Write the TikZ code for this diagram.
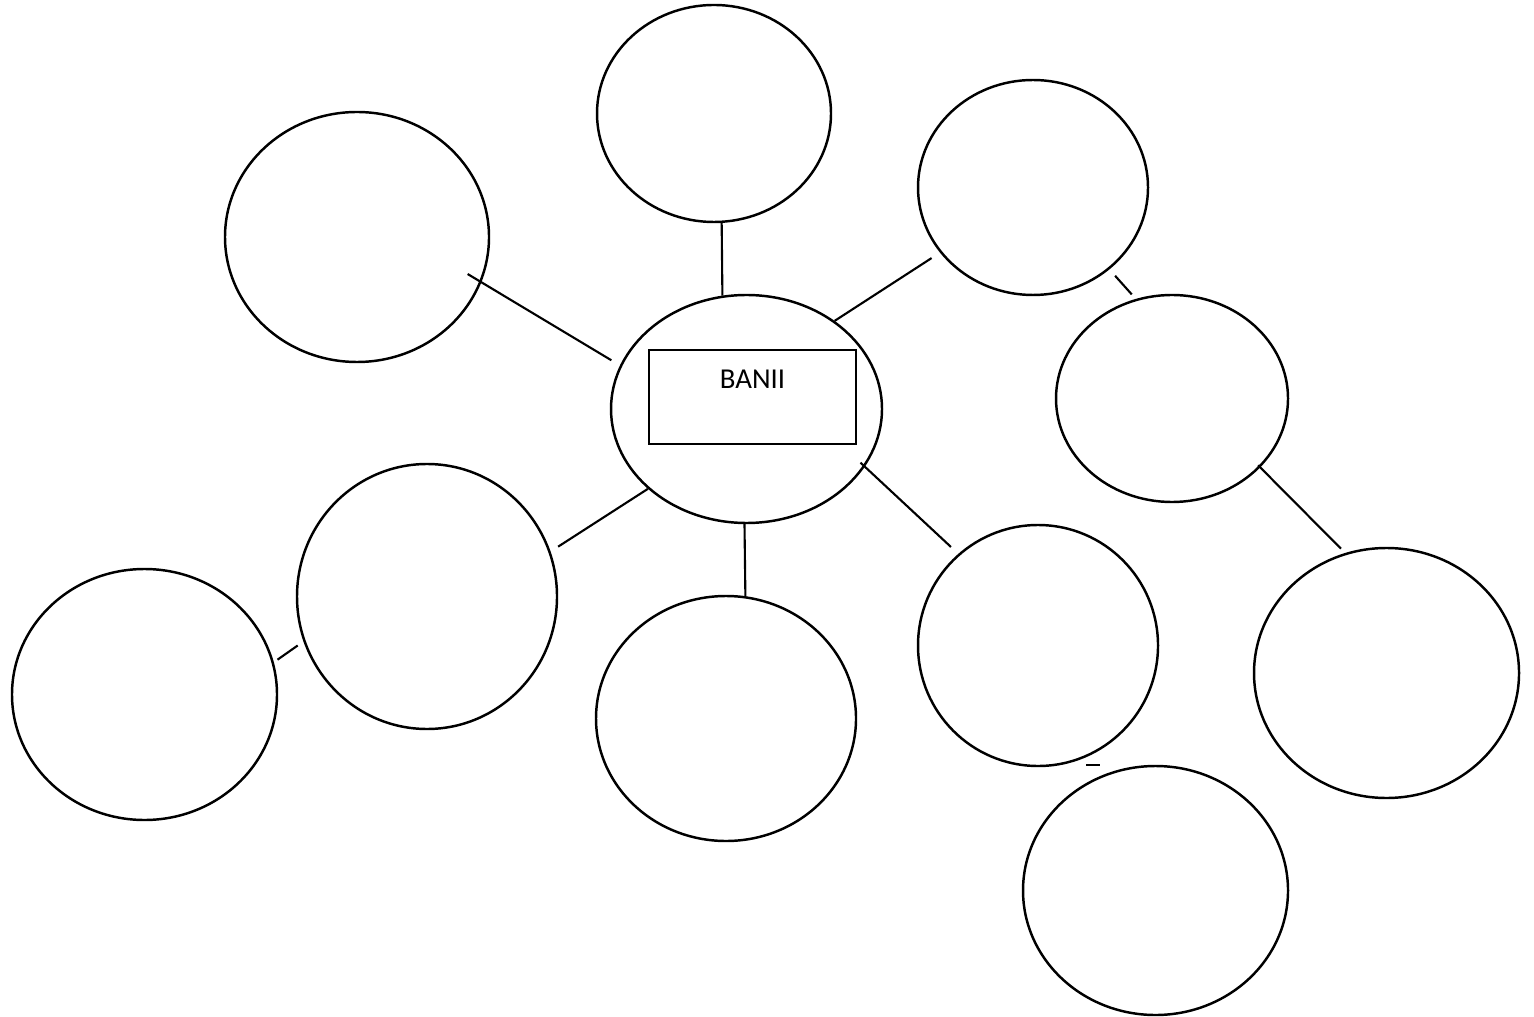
\documentclass[tikz,border=0pt]{standalone}
\usepackage{fontspec}
\setmainfont{Carlito}
\usetikzlibrary{shapes.geometric, arrows}
\tikzstyle{bubble} = [draw, ellipse, line width=0.7pt, inner sep=0pt]
\tikzstyle{link} = [line width=0.6pt]

\begin{document}
\begin{tikzpicture}
	\useasboundingbox (0,0) rectangle (15.34,-10.17);
	\node[bubble, minimum width=2.64cm, minimum height=2.50cm] (upleft) at (3.57,-2.37) {};
	\node[bubble, minimum width=2.34cm, minimum height=2.17cm] (up) at (7.14,-1.135) {};
	\node[bubble, minimum width=2.30cm, minimum height=2.15cm] (upright) at (10.33,-1.875) {};
	\node[bubble, minimum width=2.32cm, minimum height=2.07cm] (right) at (11.72,-3.985) {};
	\node[bubble, minimum width=2.71cm, minimum height=2.28cm] (centre) at (7.465,-4.09) {};
	\node[bubble, minimum width=2.60cm, minimum height=2.65cm] (left) at (4.27,-5.965) {};
	\node[bubble, minimum width=2.65cm, minimum height=2.51cm] (farleft) at (1.445,-6.945) {};
	\node[bubble, minimum width=2.60cm, minimum height=2.45cm] (down) at (7.26,-7.185) {};
	\node[bubble, minimum width=2.40cm, minimum height=2.41cm] (downright) at (10.38,-6.455) {};
	\node[bubble, minimum width=2.65cm, minimum height=2.50cm] (farright) at (13.865,-6.73) {};
	\node[bubble, minimum width=2.65cm, minimum height=2.49cm] (low) at (11.555,-8.905) {};
	\node[draw, line width=0.8pt, minimum width=2.07cm, minimum height=0.94cm, inner sep=0pt] (box) at (7.525,-3.97) {};
	\node[font=\fontsize{8.2}{10}\selectfont, anchor=base] (banii) at ([yshift=-0.40cm]box.north) {BANII};
	\draw[link, shorten <=-0.16cm, shorten >=0.10cm] (upleft.-20) -- (centre.161);
	\draw[link] (up.-86.6) -- (centre.102.4);
	\draw[link, shorten >=0.10cm] (centre.45.5) -- (upright.215.2);
	\draw[link, shorten <=0.085cm, shorten >=0.06cm] (upright.-47.9) -- (right.110.5);
	\draw[link, shorten <=-0.03cm, shorten >=0.06cm] (right.-38.5) -- (farright.109.2);
	\draw[link, shorten <=-0.06cm, shorten >=0.10cm] (centre.-26.9) -- (downright.131.7);
	\draw[link] (centre.-91.3) -- (down.81.6);
	\draw[link, shorten <=0.09cm] (left.20.5) -- (centre.219.7);
	\draw[link, shorten <=0.045cm, shorten >=0.07cm] (farleft.14.2) -- (left.200.1);
	\coordinate (gapa) at (10.86,-7.65);
	\coordinate (gapb) at (11.00,-7.65);
	\draw[link] (gapa) -- (gapb);
\end{tikzpicture}
\end{document}
